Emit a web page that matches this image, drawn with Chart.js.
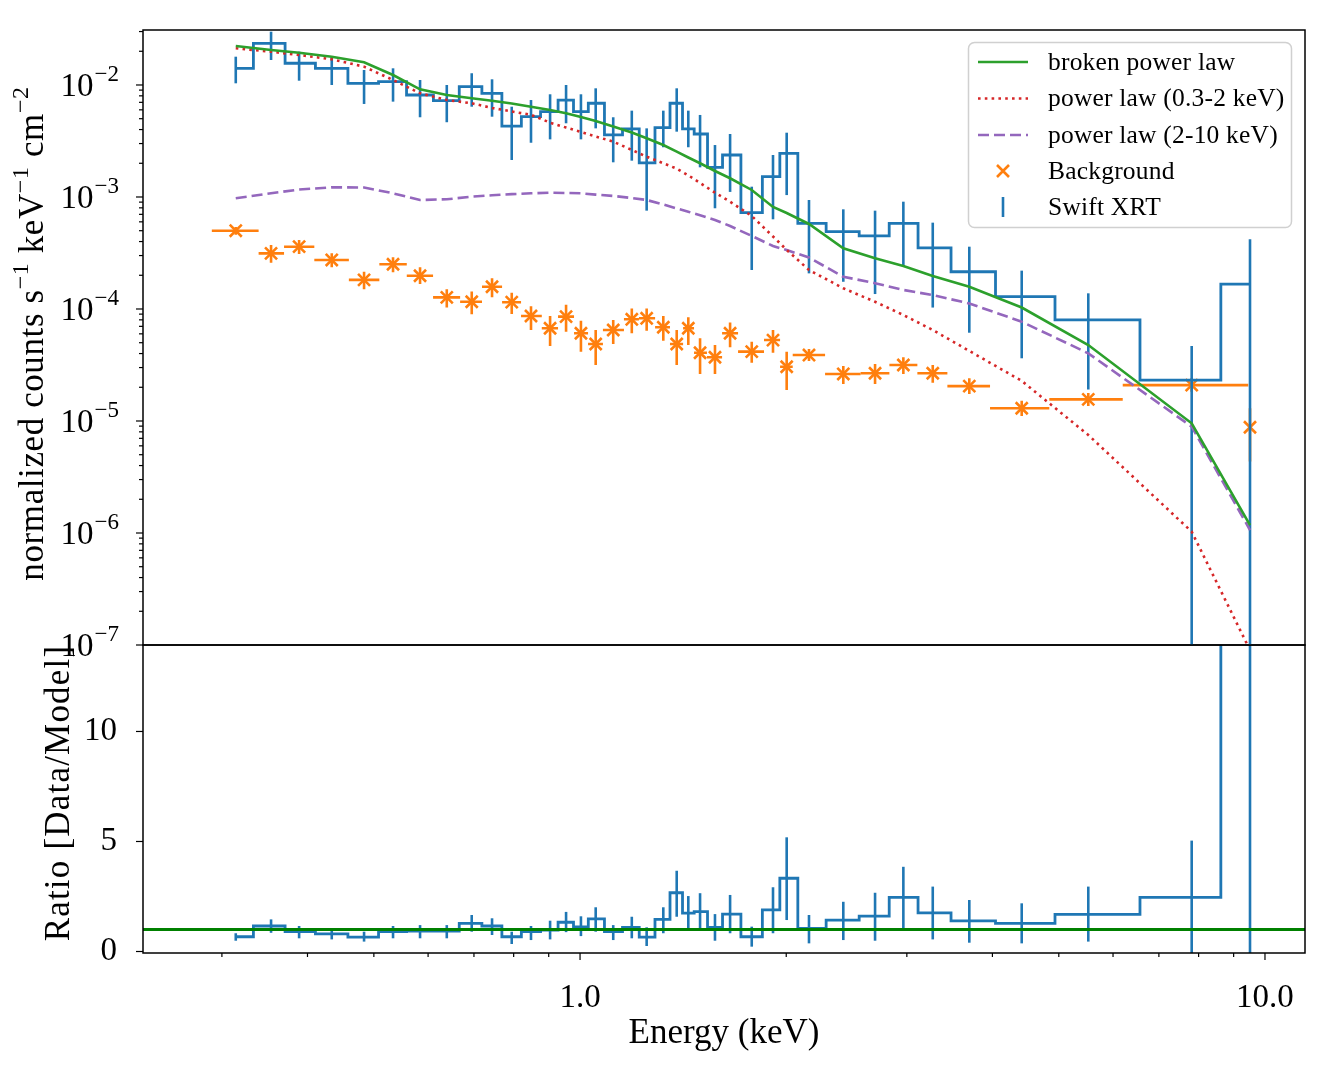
<!DOCTYPE html>
<html>
<head>
<meta charset="utf-8">
<script src="https://cdn.jsdelivr.net/npm/chart.js@4.4.0/dist/chart.umd.min.js"></script>
<style>
  html, body { margin: 0; padding: 0; background: #fff; }
  #wrap { position: relative; width: 1336px; height: 1068px; }
  #wrap canvas { position: absolute; left: 0; top: 0; }
</style>
</head>
<body>
<div id="wrap">
  <canvas id="ratioChart" width="1336" height="1068"></canvas>
  <canvas id="specChart" width="1336" height="1068"></canvas>
</div>
<script>
// bin centres and edges (keV)
const energy = [0.3143, 0.3539, 0.3889, 0.4340, 0.4838, 0.5333, 0.5840, 0.6389, 0.6948, 0.7439,
  0.7948, 0.8480, 0.9042, 0.9541, 1.003, 1.054, 1.118, 1.190, 1.251, 1.323,
  1.384, 1.439, 1.497, 1.574, 1.656, 1.781, 1.913, 2.003, 2.159, 2.423,
  2.696, 2.965, 3.273, 3.701, 4.414, 5.521, 7.816, 9.509];
const binEdges = [0.2900, 0.3394, 0.3697, 0.4093, 0.4597, 0.5093, 0.5585, 0.6101, 0.6682, 0.7192,
  0.7694, 0.8201, 0.8793, 0.9287, 0.9800, 1.0273, 1.080, 1.159, 1.219, 1.287,
  1.353, 1.414, 1.467, 1.532, 1.612, 1.701, 1.856, 1.959, 2.044, 2.279,
  2.568, 2.829, 3.108, 3.438, 3.968, 4.843, 6.199, 9.454, 9.573];

// Swift XRT spectrum
const xrtFlux = [0.01409, 0.02357, 0.01563, 0.01409, 0.01035, 0.0107, 0.00814, 0.00724, 0.00966, 0.00843,
  0.0043, 0.00521, 0.00578, 0.00734, 0.00578, 0.00687, 0.00358, 0.00405, 0.00202, 0.00416,
  0.00687, 0.00405, 0.00365, 0.00184, 0.00237, 0.000724, 0.00152, 0.002455, 0.000582, 0.00049,
  0.000449, 0.000582, 0.000352, 0.000215, 0.000129, 7.98e-5, 2.32e-5, 1.67e-4];
const xrtFluxLo = [0.01035, 0.01672, 0.01092, 0.01, 0.00677, 0.0071, 0.00515, 0.00465, 0.0064, 0.00521,
  0.00214, 0.00305, 0.00327, 0.00455, 0.00327, 0.0041, 0.00204, 0.00211, 0.000755, 0.00278,
  0.00383, 0.00278, 0.00184, 0.000793, 0.00111, 0.000223, 0.000632, 0.00104, 0.000208, 0.000175,
  0.000136, 0.000239, 0.000103, 6.14e-5, 3.63e-5, 1.91e-5, 0, 0];
const xrtFluxHi = [0.01789, 0.02992, 0.01983, 0.01768, 0.01361, 0.01409, 0.01108, 0.01, 0.01273, 0.01124,
  0.0064, 0.00734, 0.00826, 0.01, 0.00826, 0.00934, 0.00515, 0.0059, 0.0041, 0.0059,
  0.00934, 0.0059, 0.0054, 0.00291, 0.00365, 0.001236, 0.00237, 0.00375, 0.00094, 0.000776,
  0.000755, 0.000908, 0.00059, 0.00036, 0.00022, 0.000138, 4.68e-5, 4.19e-4];

// background spectrum
const bkgFlux = [5.0e-4, 3.14e-4, 3.60e-4, 2.74e-4, 1.82e-4, 2.51e-4, 1.98e-4, 1.27e-4, 1.16e-4, 1.58e-4,
  1.15e-4, 8.66e-5, 6.73e-5, 8.54e-5, 6.07e-5, 4.87e-5, 6.49e-5, 8.09e-5, 8.26e-5, 6.87e-5,
  4.87e-5, 6.73e-5, 4.07e-5, 3.71e-5, 6.07e-5, 4.16e-5, 5.28e-5, 3.05e-5, 3.88e-5, 2.63e-5,
  2.67e-5, 3.16e-5, 2.67e-5, 2.05e-5, 1.30e-5, 1.56e-5, 2.09e-5, 8.79e-6];
const bkgFluxLo = [4.6e-4, 2.59e-4, 3.10e-4, 2.36e-4, 1.50e-4, 2.13e-4, 1.67e-4, 1.03e-4, 8.97e-5, 1.27e-4,
  9.02e-5, 6.49e-5, 4.68e-5, 6.27e-5, 4.16e-5, 3.16e-5, 4.87e-5, 6.07e-5, 6.40e-5, 5.21e-5,
  3.16e-5, 4.77e-5, 2.63e-5, 2.63e-5, 4.55e-5, 3.31e-5, 4.07e-5, 1.89e-5, 3.43e-5, 2.14e-5,
  2.14e-5, 2.63e-5, 2.20e-5, 1.74e-5, 1.11e-5, 1.36e-5, 1.82e-5, 4.34e-6];
const bkgFluxHi = [5.4e-4, 3.73e-4, 4.13e-4, 3.14e-4, 2.15e-4, 2.90e-4, 2.36e-4, 1.50e-4, 1.43e-4, 1.88e-4,
  1.40e-4, 1.06e-4, 8.66e-5, 1.09e-4, 7.86e-5, 6.49e-5, 7.98e-5, 1.01e-4, 1.01e-4, 8.66e-5,
  6.49e-5, 8.43e-5, 5.47e-5, 4.77e-5, 7.59e-5, 5.10e-5, 6.49e-5, 4.16e-5, 4.40e-5, 3.10e-5,
  3.23e-5, 3.71e-5, 3.16e-5, 2.41e-5, 1.52e-5, 1.78e-5, 2.42e-5, 1.30e-5];

// models
const brokenPowerLaw = [0.02229, 0.02054, 0.01943, 0.01789, 0.01595, 0.01228, 0.00915, 0.00814, 0.00761, 0.00723,
  0.00684, 0.0064, 0.00598, 0.00559, 0.00518, 0.00477, 0.00425, 0.00377, 0.00334, 0.00291,
  0.002538, 0.002253, 0.0020, 0.001706, 0.001469, 0.001155, 0.000815, 0.00072, 0.000574, 0.000348,
  0.0002836, 0.000242, 0.000197, 0.000158, 0.0001031, 4.77e-5, 9.54e-6, 1.178e-6];
const powerLawSoft = [0.02127, 0.01983, 0.01853, 0.01696, 0.01457, 0.01108, 0.00843, 0.00734, 0.00687, 0.00624,
  0.0058, 0.00542, 0.00461, 0.00417, 0.0038, 0.00347, 0.00312, 0.00263, 0.00229, 0.0020,
  0.00179, 0.00156, 0.001334, 0.001093, 0.000908, 0.000677, 0.000444, 0.000337, 0.000223, 0.000153,
  0.000116, 8.84e-5, 6.49e-5, 4.22e-5, 2.28e-5, 7.5e-6, 1.028e-6, 9.0e-8];
const powerLawHard = [0.000974, 0.001079, 0.001166, 0.00122, 0.001216, 0.001079, 0.00094, 0.000954, 0.001006, 0.001036,
  0.00106, 0.001079, 0.001093, 0.001086, 0.001079, 0.00105, 0.001021, 0.00098, 0.00094, 0.000857,
  0.000789, 0.000738, 0.000687, 0.000623, 0.000551, 0.000449, 0.000365, 0.000336, 0.000288, 0.000194,
  0.00017, 0.000148, 0.000133, 0.000112, 7.7e-5, 4.02e-5, 8.9e-6, 1.063e-6];

// data / model
const ratio = [0.67, 1.16, 0.90, 0.80, 0.65, 0.90, 0.93, 0.93, 1.28, 1.16,
  0.67, 0.90, 0.97, 1.33, 1.12, 1.48, 0.90, 1.10, 0.65, 1.46,
  2.67, 1.74, 1.81, 1.10, 1.70, 0.67, 1.89, 3.33, 1.05, 1.43,
  1.61, 2.46, 1.76, 1.39, 1.28, 1.69, 2.46, 142];
const ratioLo = [0.49, 0.85, 0.60, 0.55, 0.45, 0.60, 0.60, 0.60, 0.90, 0.75,
  0.34, 0.52, 0.55, 0.88, 0.70, 0.90, 0.52, 0.60, 0.25, 0.83,
  1.58, 0.95, 0.98, 0.49, 0.83, 0.22, 0.83, 1.43, 0.37, 0.52,
  0.49, 1.05, 0.55, 0.40, 0.37, 0.45, -0.5, -100];
const ratioHi = [0.83, 1.46, 1.16, 1.01, 0.90, 1.16, 1.20, 1.20, 1.66, 1.51,
  0.90, 1.16, 1.40, 1.80, 1.60, 2.01, 1.20, 1.58, 1.10, 2.01,
  3.67, 2.52, 2.65, 1.70, 2.57, 1.13, 2.92, 5.19, 1.66, 2.26,
  2.67, 3.85, 2.95, 2.34, 2.19, 2.95, 5.04, 400];
const ratioRef = 1;

// axes
const xMin = 0.2301, xMax = 11.44;
const fluxMin = 1e-7, fluxMax = 0.03097;
const ratioMin = -0.068, ratioMax = 13.93;
const fluxMajorTicks = [1e-7, 1e-6, 1e-5, 1e-4, 1e-3, 1e-2];
const fluxExponents = ['−7', '−6', '−5', '−4', '−3', '−2'];
const minorSteps = [2, 3, 4, 5, 6, 7, 8, 9];
const energyMajorTicks = [1, 10];
const energyTickLabels = ['1.0', '10.0'];
const energyMinorTicks = [0.3, 0.4, 0.5, 0.6, 0.7, 0.8, 0.9, 2, 3, 4, 5, 6, 7, 8, 9];
const ratioTicks = [0, 5, 10];

const serif = "'Liberation Serif', 'DejaVu Serif', serif";
const C = { blue: '#1f77b4', orange: '#ff7f0e', green: '#2ca02c', red: '#d62728', purple: '#9467bd' };

const pts = ys => energy.map((e, i) => ({ x: e, y: ys[i] }));

// error bars drawn right after their own dataset
const errorBars = {
  id: 'errorBars',
  afterDatasetDraw(chart, args) {
    const ds = chart.data.datasets[args.index];
    if (!ds.errLo && !ds.xEdges) return;
    const xs = chart.scales[args.meta.xAxisID], ys = chart.scales[args.meta.yAxisID];
    const { ctx, chartArea: a } = chart;
    ctx.save();
    ctx.beginPath();
    ctx.rect(a.left, a.top, a.right - a.left, a.bottom - a.top);
    ctx.clip();
    ctx.strokeStyle = ds.borderColor;
    ctx.lineWidth = ds.errWidth || 2.5;
    ds.data.forEach((p, i) => {
      const px = xs.getPixelForValue(p.x);
      ctx.beginPath();
      if (ds.errLo) {
        const lo = ds.errLo[i];
        const yLo = (ys.type === 'logarithmic' && lo <= 0) ? a.bottom + 10 : ys.getPixelForValue(lo);
        ctx.moveTo(px, yLo);
        ctx.lineTo(px, ys.getPixelForValue(ds.errHi[i]));
      }
      if (ds.xEdges) {
        const py = ys.getPixelForValue(p.y);
        ctx.moveTo(xs.getPixelForValue(ds.xEdges[i]), py);
        ctx.lineTo(xs.getPixelForValue(ds.xEdges[i + 1]), py);
      }
      ctx.stroke();
    });
    ctx.restore();
  }
};

// frame and outward tick marks
const frameTicks = {
  id: 'frameTicks',
  afterDraw(chart, args, o) {
    const { ctx, chartArea: a } = chart;
    ctx.save();
    ctx.strokeStyle = '#000';
    ctx.lineWidth = 1.2;
    const tick = (axis, vals, len) => {
      const s = chart.scales[axis];
      vals.forEach(v => {
        if (v < s.min || v > s.max) return;
        const p = s.getPixelForValue(v);
        ctx.beginPath();
        if (axis === 'x') { ctx.moveTo(p, a.bottom); ctx.lineTo(p, a.bottom + len); }
        else { ctx.moveTo(a.left, p); ctx.lineTo(a.left - len, p); }
        ctx.stroke();
      });
    };
    (o.yMajor && tick('y', o.yMajor, 7));
    (o.yMinor && tick('y', o.yMinor, 4));
    (o.xMajor && tick('x', o.xMajor, 7));
    (o.xMinor && tick('x', o.xMinor, 4));
    ctx.lineWidth = 1.5;
    ctx.strokeRect(a.left, a.top, a.right - a.left, a.bottom - a.top);
    if (o.yTitle) {
      ctx.fillStyle = '#000';
      ctx.font = `35px ${serif}`;
      ctx.letterSpacing = '1.2px';
      ctx.textAlign = 'center';
      ctx.textBaseline = 'middle';
      ctx.translate(o.yTitleX, o.yTitleY);
      ctx.rotate(-Math.PI / 2);
      ctx.fillText(o.yTitle, 0, 0);
    }
    ctx.restore();
  }
};

// log tick labels, y title with superscripts, legend
const specDecor = {
  id: 'specDecor',
  afterDraw(chart) {
    const { ctx } = chart;
    const ys = chart.scales.y;
    ctx.save();
    ctx.fillStyle = '#000';
    ctx.textBaseline = 'alphabetic';
    fluxMajorTicks.forEach((v, i) => {
      const y = ys.getPixelForValue(v);
      ctx.font = `33px ${serif}`;
      const wb = ctx.measureText('10').width;
      ctx.font = `23px ${serif}`;
      const we = ctx.measureText(fluxExponents[i]).width;
      const right = 119;
      ctx.font = `33px ${serif}`;
      ctx.fillText('10', right - we - wb - 1, y + 11);
      ctx.font = `23px ${serif}`;
      ctx.fillText(fluxExponents[i], right - we, y - 4);
    });

    // rotated y title
    const parts = [['normalized counts s', 0], ['−1', 1], [' keV', 0], ['−1', 1], [' cm', 0], ['−2', 1]];
    const fMain = `35px ${serif}`, fSup = `24px ${serif}`;
    ctx.letterSpacing = '0.6px';
    let total = 0;
    parts.forEach(([t, s]) => { ctx.font = s ? fSup : fMain; total += ctx.measureText(t).width; });
    ctx.translate(43, (chart.chartArea.top + chart.chartArea.bottom) / 2 - 4);
    ctx.rotate(-Math.PI / 2);
    let x = -total / 2;
    parts.forEach(([t, s]) => {
      ctx.font = s ? fSup : fMain;
      ctx.fillText(t, x, s ? -15 : 0);
      x += ctx.measureText(t).width;
    });
    ctx.setTransform(1, 0, 0, 1, 0, 0);
    ctx.letterSpacing = '0px';

    // legend
    const bx = 968.5, by = 42.5, bw = 323, bh = 185;
    ctx.beginPath();
    ctx.roundRect(bx, by, bw, bh, 6);
    ctx.fillStyle = 'rgba(255,255,255,0.8)';
    ctx.fill();
    ctx.strokeStyle = '#d0d0d0';
    ctx.lineWidth = 1.5;
    ctx.stroke();
    const rowY = [62, 98.5, 135, 171, 207];
    chart.data.datasets.forEach((ds, i) => {
      const y = rowY[i];
      ctx.strokeStyle = ds.borderColor;
      ctx.lineWidth = 2.6;
      ctx.setLineDash(ds.borderDash || []);
      ctx.beginPath();
      if (ds.legendHandle === 'x') {
        ctx.moveTo(997, y - 6); ctx.lineTo(1009, y + 6);
        ctx.moveTo(997, y + 6); ctx.lineTo(1009, y - 6);
      } else if (ds.legendHandle === 'bar') {
        ctx.moveTo(1003, y - 10); ctx.lineTo(1003, y + 10);
      } else {
        ctx.moveTo(978, y); ctx.lineTo(1028, y);
      }
      ctx.stroke();
      ctx.setLineDash([]);
      ctx.fillStyle = '#000';
      ctx.font = `25.5px ${serif}`;
      ctx.letterSpacing = '0.2px';
      ctx.textBaseline = 'middle';
      ctx.fillText(ds.label, 1048, y + 1);
    });
    ctx.restore();
  }
};

const fluxMinor = [];
fluxMajorTicks.forEach(d => minorSteps.forEach(k => fluxMinor.push(k * d)));

new Chart(document.getElementById('specChart'), {
  type: 'line',
  data: {
    datasets: [
      { label: 'broken power law', data: pts(brokenPowerLaw), borderColor: C.green, borderWidth: 2.6,
        pointRadius: 0, order: 0, legendHandle: 'line' },
      { label: 'power law (0.3-2 keV)', data: pts(powerLawSoft), borderColor: C.red, borderWidth: 2.6,
        borderDash: [2.6, 4.2], pointRadius: 0, order: 1, legendHandle: 'line' },
      { label: 'power law (2-10 keV)', data: pts(powerLawHard), borderColor: C.purple, borderWidth: 2.6,
        borderDash: [11, 5], pointRadius: 0, order: 2, legendHandle: 'line' },
      { label: 'Background', data: pts(bkgFlux), showLine: false, borderColor: C.orange, backgroundColor: C.orange,
        pointStyle: 'crossRot', pointRadius: 8.5, pointBorderWidth: 2.6, errLo: bkgFluxLo, errHi: bkgFluxHi,
        xEdges: binEdges, errWidth: 2.6, order: 4, legendHandle: 'x' },
      { label: 'Swift XRT', data: pts(xrtFlux), stepped: 'middle', borderColor: C.blue, borderWidth: 2.8,
        pointRadius: 0, errLo: xrtFluxLo, errHi: xrtFluxHi, errWidth: 2.6, order: 3, legendHandle: 'bar' }
    ]
  },
  options: {
    responsive: false,
    animation: false,
    layout: { padding: { top: 30, right: 31, bottom: 423, left: 0 } },
    scales: {
      x: { type: 'logarithmic', min: xMin, max: xMax, display: false },
      y: {
        type: 'logarithmic', min: fluxMin, max: fluxMax,
        grid: { display: false }, border: { display: false }, ticks: { display: false },
        afterFit: s => { s.width = 143; }
      }
    },
    plugins: {
      legend: { display: false },
      tooltip: { enabled: false },
      frameTicks: { yMajor: fluxMajorTicks, yMinor: fluxMinor }
    }
  },
  plugins: [errorBars, frameTicks, specDecor]
});

new Chart(document.getElementById('ratioChart'), {
  type: 'line',
  data: {
    datasets: [
      { label: 'Model', data: [{ x: xMin, y: ratioRef }, { x: xMax, y: ratioRef }], borderColor: 'green',
        borderWidth: 3, pointRadius: 0, order: 0 },
      { label: 'Swift XRT', data: pts(ratio), stepped: 'middle', borderColor: C.blue, borderWidth: 2.8,
        pointRadius: 0, errLo: ratioLo, errHi: ratioHi, errWidth: 2.6, order: 1 }
    ]
  },
  options: {
    responsive: false,
    animation: false,
    layout: { padding: { top: 645, right: 31, bottom: 0, left: 0 } },
    scales: {
      x: {
        type: 'logarithmic', min: xMin, max: xMax,
        grid: { display: false }, border: { display: false },
        afterBuildTicks: s => { s.ticks = energyMajorTicks.map(v => ({ value: v })); },
        ticks: {
          autoSkip: false, maxRotation: 0, padding: 18, color: '#000',
          font: { family: serif, size: 33, lineHeight: 1.2 },
          callback: v => energyTickLabels[energyMajorTicks.indexOf(v)] || ''
        },
        title: { display: true, text: 'Energy (keV)', color: '#000',
          font: { family: serif, size: 35, lineHeight: 1.2 }, padding: { top: 0, bottom: 13 } },
        afterFit: s => { s.height = 115; }
      },
      y: {
        type: 'linear', min: ratioMin, max: ratioMax,
        grid: { display: false }, border: { display: false },
        afterBuildTicks: s => { s.ticks = ratioTicks.map(v => ({ value: v })); },
        ticks: { padding: 18, color: '#000', font: { family: serif, size: 33, lineHeight: 1.2 } },
        afterFit: s => { s.width = 143; }
      }
    },
    plugins: {
      legend: { display: false },
      tooltip: { enabled: false },
      frameTicks: { yMajor: ratioTicks, xMajor: energyMajorTicks, xMinor: energyMinorTicks,
        yTitle: 'Ratio [Data/Model]', yTitleX: 60, yTitleY: 793 }
    }
  },
  plugins: [errorBars, frameTicks]
});
</script>
</body>
</html>
